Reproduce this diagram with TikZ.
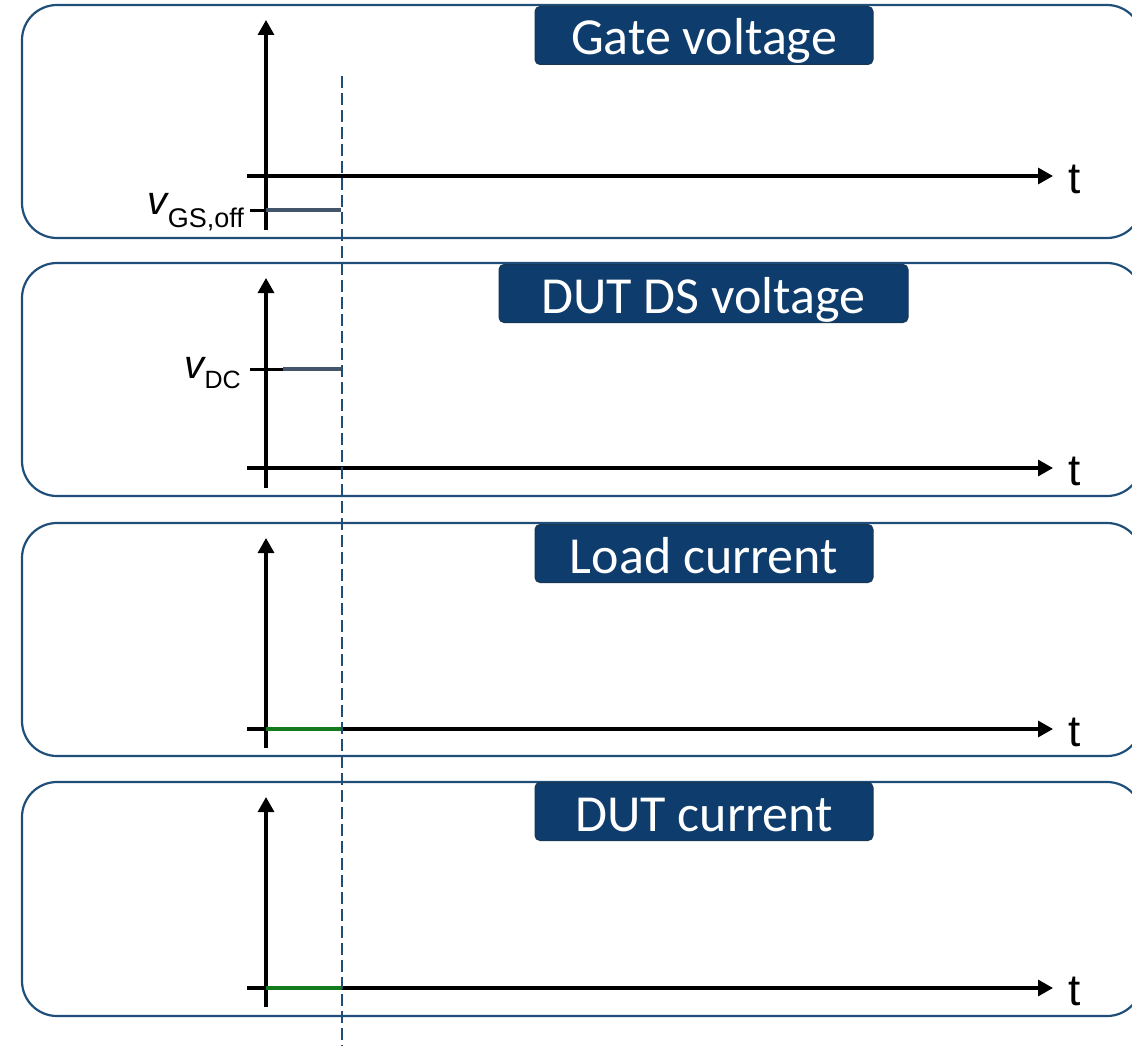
\documentclass[tikz,border=0pt]{standalone}
\usepackage{fontspec}
\setmainfont{Liberation Sans}
\newfontfamily\titlefont{Carlito}
\usetikzlibrary{arrows.meta}
\definecolor{frameblue}{HTML}{1F4E79}
\definecolor{titlefill}{HTML}{0E3C6C}
\definecolor{levelgray}{HTML}{44546A}
\definecolor{levelgreen}{HTML}{137A1E}
\begin{document}
\begin{tikzpicture}[x=1pt,y=-1pt,
  panel/.style={draw=frameblue,line width=2.2pt,rounded corners=35pt},
  titlebox/.style={fill=titlefill,draw=frameblue!70!black,line width=1pt,rounded corners=5pt,
    text=white,font=\titlefont\fontsize{52}{56}\selectfont,inner sep=0pt,
    text height=39pt,text depth=0pt,minimum height=58pt},
  axis/.style={line width=3.2pt,-{Triangle[length=15pt,width=16pt]}},
  tickline/.style={line width=3pt},
  gray level/.style={draw=levelgray,line width=4pt},
  green level/.style={draw=levelgreen,line width=4pt},
  tlabel/.style={anchor=base west,inner sep=0pt,font=\fontsize{44}{44}\selectfont},
  marker/.style={draw=frameblue,line width=1.5pt,dash pattern=on 12pt off 5pt}]
\useasboundingbox (0,0) rectangle (1132,1046);
\clip (0,0) rectangle (1132,1046);
% panels
\draw[panel] (22,5) rectangle (1142,238);
\draw[panel] (22,263) rectangle (1142,496);
\draw[panel] (22,523) rectangle (1142,756);
\draw[panel] (22,782) rectangle (1142,1016);
% titles
\node[titlebox,minimum width=338pt] (t1) at (704,35.5) {Gate voltage};
\node[titlebox,minimum width=409pt] (t2) at (703.5,293.5) {DUT DS voltage};
\node[titlebox,minimum width=338pt] (t3) at (704,553.5) {Load current};
\node[titlebox,minimum width=338pt] (t4) at (704,811.5) {DUT current};
% axes
\foreach \i/\ax/\top/\bot in {1/176/20/230, 2/468/278/488, 3/729/538/748, 4/988/797/1007}{
  \coordinate (yb\i) at (266,\bot);
  \coordinate (yt\i) at (266,\top);
  \coordinate (xl\i) at (247,\ax);
  \coordinate (xr\i) at (1053,\ax);
  \coordinate (o\i) at (266,\ax);
  \coordinate (m\i) at (342,\ax);
  \draw[axis] (yb\i) -- (yt\i);
  \draw[axis] (xl\i) -- (xr\i);
  \node[tlabel] (tl\i) at (1068,\ax+17) {t};
}
% panel 1 level
\coordinate (g0) at (250,210);
\coordinate (g1) at (266,210);
\coordinate (g2) at (341,210);
\draw[tickline] (g0) -- (g1);
\draw[gray level] (g1) -- (g2);
\node[anchor=base east,inner sep=0pt] (vgs) at (244,214)
  {{\fontsize{40}{40}\selectfont\itshape v}\raisebox{-13pt}{\fontsize{27}{27}\selectfont GS,off}};
% panel 2 level
\coordinate (d0) at (250,369);
\coordinate (d1) at (283,369);
\coordinate (d2) at (342,369);
\draw[tickline] (d0) -- (d1);
\draw[gray level] (d1) -- (d2);
\node[anchor=base east,inner sep=0pt] (vdc) at (241,378)
  {{\fontsize{40}{40}\selectfont\itshape v}\raisebox{-10pt}{\fontsize{25}{25}\selectfont DC}};
% panels 3 and 4 levels
\draw[green level] (o3) -- (m3);
\draw[green level] (o4) -- (m4);
% switching instant marker
\coordinate (mk0) at (342,76);
\coordinate (mk1) at (342,1046);
\draw[marker] (mk0) -- (mk1);
\end{tikzpicture}
\end{document}
